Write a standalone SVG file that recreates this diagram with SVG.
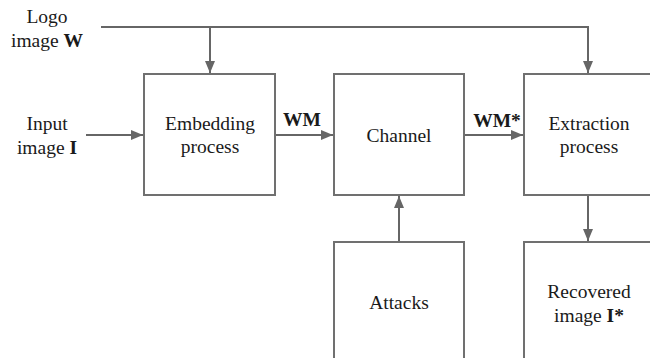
<svg xmlns="http://www.w3.org/2000/svg" width="650" height="358" viewBox="0 0 650 358">
<defs>
<marker id="ah" markerWidth="12" markerHeight="10" refX="12" refY="5" orient="auto" markerUnits="userSpaceOnUse">
<path d="M0,0 L12,5 L0,10 Z" fill="#666"/>
</marker>
<style>
.box{fill:#fff;stroke:#707070;stroke-width:2}
.ln{fill:none;stroke:#666;stroke-width:2}
text{font-family:"Liberation Serif","Times New Roman",serif;font-size:19.5px;fill:#1a1a1a;text-anchor:middle}
.b{font-weight:bold}
</style>
</defs>
<rect width="650" height="358" fill="#fff"/>
<g id="connectors">
<polyline class="ln" points="101,27 588,27 588,73" marker-end="url(#ah)"/>
<line class="ln" x1="210" y1="27" x2="210" y2="73" marker-end="url(#ah)"/>
<line class="ln" x1="86" y1="135" x2="143" y2="135" marker-end="url(#ah)"/>
<line class="ln" x1="275" y1="135" x2="333" y2="135" marker-end="url(#ah)"/>
<line class="ln" x1="464" y1="135" x2="523" y2="135" marker-end="url(#ah)"/>
<line class="ln" x1="399" y1="242" x2="399" y2="196" marker-end="url(#ah)"/>
<line class="ln" x1="588" y1="195" x2="588" y2="241" marker-end="url(#ah)"/>
<text class="b" x="302" y="126">WM</text>
<text class="b" x="497" y="127">WM*</text>
</g>
<g id="logo">
<text x="47" y="23">Logo</text>
<text x="47" y="47">image <tspan class="b">W</tspan></text>
</g>
<g id="input">
<text x="47" y="130">Input</text>
<text x="47" y="154">image <tspan class="b">I</tspan></text>
</g>
<g id="embedding">
<rect class="box" x="144" y="74" width="131" height="121"/>
<text x="210" y="130">Embedding</text>
<text x="210" y="153">process</text>
</g>
<g id="channel">
<rect class="box" x="334" y="74" width="130" height="121"/>
<text x="399" y="142">Channel</text>
</g>
<g id="extraction">
<rect class="box" x="524" y="74" width="130" height="121"/>
<text x="589" y="130">Extraction</text>
<text x="589" y="153">process</text>
</g>
<g id="attacks">
<rect class="box" x="334" y="242" width="130" height="130"/>
<text x="399" y="309">Attacks</text>
</g>
<g id="recovered">
<rect class="box" x="524" y="242" width="130" height="130"/>
<text x="589" y="298">Recovered</text>
<text x="589" y="322">image <tspan class="b">I*</tspan></text>
</g>
</svg>
